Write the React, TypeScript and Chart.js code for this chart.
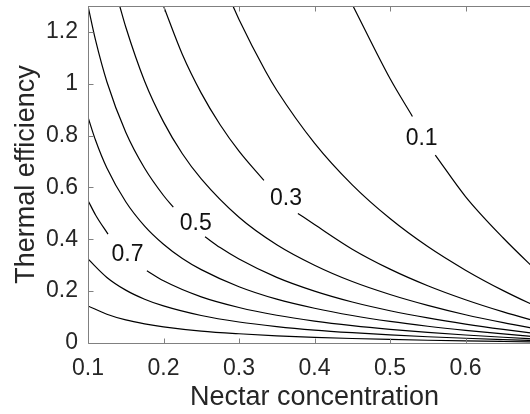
import { useEffect, useRef } from 'react';
import { Chart, registerables } from 'chart.js';

Chart.register(...registerables);

// Contour lines: [nectar concentration, thermal efficiency]
// A null y marks the break where the contour label sits.
const contour09: [number, number | null][] = [
  [0.1, 0.143], [0.125, 0.111], [0.15, 0.089], [0.175, 0.074], [0.2, 0.0625], [0.25, 0.046],
  [0.3, 0.0356], [0.35, 0.0278], [0.4, 0.022], [0.45, 0.0174], [0.5, 0.0137], [0.55, 0.0106],
  [0.6, 0.008], [0.65, 0.0058], [0.7, 0.0038],
];
const contour08: [number, number | null][] = [
  [0.1, 0.324], [0.125, 0.253], [0.15, 0.204], [0.175, 0.169], [0.2, 0.143], [0.25, 0.106],
  [0.3, 0.081], [0.35, 0.0635], [0.4, 0.05], [0.45, 0.0397], [0.5, 0.0312], [0.55, 0.0242],
  [0.6, 0.0183], [0.65, 0.0131], [0.7, 0.0086],
];
const contour07: [number, number | null][] = [
  [0.1, 0.55], [0.11, 0.494], [0.1265, 0.42], [0.152, null], [0.178, 0.279], [0.2, 0.24],
  [0.25, 0.178], [0.3, 0.137], [0.35, 0.107], [0.4, 0.0845], [0.45, 0.0669], [0.5, 0.0526],
  [0.55, 0.0408], [0.6, 0.0308], [0.65, 0.0222], [0.7, 0.0145],
];
const contour06: [number, number | null][] = [
  [0.1, 0.871], [0.11, 0.782], [0.125, 0.675], [0.15, 0.545], [0.175, 0.451], [0.2, 0.381],
  [0.225, 0.326], [0.25, 0.283], [0.3, 0.217], [0.35, 0.169], [0.4, 0.134], [0.45, 0.106],
  [0.5, 0.0833], [0.55, 0.0647], [0.6, 0.0489], [0.65, 0.0351], [0.7, 0.0228],
];
const contour05: [number, number | null][] = [
  [0.1, 1.3], [0.11, 1.168], [0.125, 1.008], [0.15, 0.813], [0.175, 0.674], [0.2, 0.569],
  [0.213, 0.524], [0.243, null], [0.255, 0.41], [0.275, 0.368], [0.3, 0.324], [0.35, 0.253],
  [0.4, 0.2], [0.45, 0.158], [0.5, 0.1245], [0.55, 0.0966], [0.6, 0.0729], [0.65, 0.0524],
  [0.7, 0.0342],
];
const contour04: [number, number | null][] = [
  [0.142, 1.3], [0.15, 1.219], [0.175, 1.01], [0.2, 0.853], [0.225, 0.73], [0.25, 0.633],
  [0.3, 0.485], [0.35, 0.379], [0.4, 0.3], [0.45, 0.237], [0.5, 0.187], [0.55, 0.145],
  [0.6, 0.109], [0.65, 0.0786], [0.7, 0.0513],
];
const contour03: [number, number | null][] = [
  [0.2, 1.3], [0.225, 1.113], [0.25, 0.964], [0.275, 0.842], [0.3, 0.74], [0.333, 0.627],
  [0.362, null], [0.378, 0.5], [0.4, 0.457], [0.45, 0.362], [0.5, 0.285], [0.55, 0.221],
  [0.6, 0.167], [0.65, 0.12], [0.7, 0.078],
];
const contour02: [number, number | null][] = [
  [0.292, 1.3], [0.3, 1.248], [0.335, 1.049], [0.35, 0.975], [0.4, 0.771], [0.45, 0.61],
  [0.5, 0.48], [0.55, 0.372], [0.6, 0.281], [0.65, 0.202], [0.7, 0.132],
];
const contour01: [number, number | null][] = [
  [0.451, 1.3], [0.5, 1.02], [0.5297, 0.874], [0.542, null], [0.56, 0.725], [0.6, 0.565],
  [0.65, 0.405], [0.7, 0.262],
];

const contourLevels = ['0.9', '0.8', '0.7', '0.6', '0.5', '0.4', '0.3', '0.2', '0.1'];
const contourLines = [
  contour09, contour08, contour07, contour06, contour05, contour04, contour03, contour02, contour01,
];

// Inline contour labels
const labelTexts = ['0.7', '0.5', '0.3', '0.1'];
const labelX = [0.1523, 0.2428, 0.3622, 0.5419];
const labelY = [0.344, 0.465, 0.559, 0.794];

const xTicks = [0.1, 0.2, 0.3, 0.4, 0.5, 0.6];
const yTicks = [0, 0.2, 0.4, 0.6, 0.8, 1, 1.2];

const FONT = "'Liberation Sans', Arial, Helvetica, sans-serif";
const TEXT = '#262626';
const AXIS = '#808080';

const framePlugin = {
  id: 'matlabFrame',
  afterDatasetsDraw(chart: any) {
    const { ctx, chartArea: a, scales } = chart;
    const xs = scales.x;
    const ys = scales.y;
    const L = Math.round(a.left) + 0.5;
    const R = Math.round(a.right) - 0.5;
    const T = Math.round(a.top) + 0.5;
    const B = Math.round(a.bottom) + 0.5;
    ctx.save();
    ctx.strokeStyle = AXIS;
    ctx.lineWidth = 1;
    ctx.beginPath();
    ctx.moveTo(L, T);
    ctx.lineTo(R, T);
    ctx.lineTo(R, B);
    ctx.lineTo(L, B);
    ctx.closePath();
    const tl = 5;
    xTicks.forEach((v) => {
      const px = Math.round(xs.getPixelForValue(v)) + 0.5;
      ctx.moveTo(px, B);
      ctx.lineTo(px, B - tl);
      ctx.moveTo(px, T);
      ctx.lineTo(px, T + tl);
    });
    yTicks.forEach((v) => {
      const py = Math.round(ys.getPixelForValue(v)) + 0.5;
      ctx.moveTo(L, py);
      ctx.lineTo(L + tl, py);
      ctx.moveTo(R, py);
      ctx.lineTo(R - tl, py);
    });
    ctx.stroke();

    ctx.fillStyle = '#111';
    ctx.font = `23px ${FONT}`;
    ctx.textAlign = 'center';
    ctx.textBaseline = 'middle';
    labelTexts.forEach((t, i) => {
      ctx.fillText(t, xs.getPixelForValue(labelX[i]), ys.getPixelForValue(labelY[i]) + 1);
    });
    ctx.restore();
  },
};

export default function App() {
  const ref = useRef<HTMLCanvasElement | null>(null);

  useEffect(() => {
    document.documentElement.style.overflow = 'hidden';
    document.body.style.overflow = 'hidden';
    const canvas = ref.current;
    if (!canvas) return;
    Chart.defaults.font.family = FONT;
    const chart = new Chart(canvas, {
      type: 'scatter',
      data: {
        datasets: contourLines.map((line, i) => ({
          label: contourLevels[i],
          data: line.map(([x, y]) => ({ x, y })),
          showLine: true,
          borderColor: '#000',
          borderWidth: 1.2,
          pointRadius: 0,
          pointHoverRadius: 0,
          cubicInterpolationMode: 'monotone' as const,
          spanGaps: false,
        })),
      },
      options: {
        animation: false,
        responsive: true,
        maintainAspectRatio: false,
        layout: { padding: { top: 6, left: 0, right: 0, bottom: 0 } },
        plugins: { legend: { display: false }, tooltip: { enabled: false } },
        events: [],
        scales: {
          x: {
            type: 'linear',
            min: 0.1,
            max: 0.7,
            afterBuildTicks: (s: any) => {
              s.ticks = xTicks.map((v) => ({ value: v }));
            },
            afterFit: (s: any) => {
              s.height = 71;
              s.paddingLeft = 0;
              s.paddingRight = 0;
            },
            grid: { display: false, drawTicks: false },
            border: { display: false },
            ticks: {
              color: TEXT,
              font: { size: 23 },
              padding: 12,
              maxRotation: 0,
              autoSkip: false,
              callback: (v: any) => String(v),
            },
            title: {
              display: true,
              text: 'Nectar concentration',
              color: TEXT,
              font: { size: 27 },
              padding: { top: 0, bottom: 0 },
            },
          },
          y: {
            type: 'linear',
            min: 0,
            max: 1.3,
            afterBuildTicks: (s: any) => {
              s.ticks = yTicks.map((v) => ({ value: v }));
            },
            afterFit: (s: any) => {
              s.width = 88;
              s.paddingTop = 0;
              s.paddingBottom = 0;
            },
            grid: { display: false, drawTicks: false },
            border: { display: false },
            ticks: {
              color: TEXT,
              font: { size: 23 },
              padding: 10,
              autoSkip: false,
              callback: (v: any) => String(v),
            },
            title: {
              display: true,
              text: 'Thermal efficiency',
              color: TEXT,
              font: { size: 27 },
              padding: { top: 10, bottom: 0 },
            },
          },
        },
      },
      plugins: [framePlugin],
    });
    return () => chart.destroy();
  }, []);

  return (
    <div style={{ position: 'fixed', left: 0, top: 0, width: 541, height: 414 }}>
      <canvas ref={ref} />
    </div>
  );
}
